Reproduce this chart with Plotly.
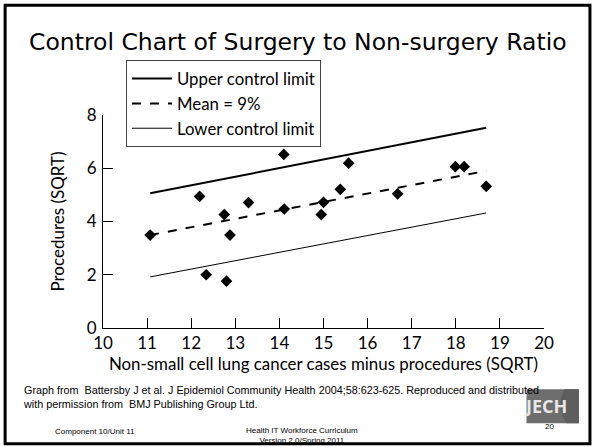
import plotly.graph_objects as go

# ---------------- data ----------------
pts_x = [11.07, 12.19, 12.34, 12.75, 12.80, 12.88, 13.30, 14.10, 14.11,
         14.95, 15.00, 15.38, 15.57, 16.68, 17.99, 18.19, 18.69]
pts_y = [3.49, 4.94, 2.00, 4.26, 1.76, 3.49, 4.71, 6.52, 4.47,
         4.26, 4.72, 5.21, 6.19, 5.04, 6.06, 6.06, 5.32]

limit_x = [11.07, 18.69]
ucl_y = [5.06, 7.52]
mean_y = [3.49, 5.90]
lcl_y = [1.92, 4.32]

x_ticks = [10, 11, 12, 13, 14, 15, 16, 17, 18, 19, 20]
y_ticks = [0, 2, 4, 6, 8]

title_text = "Control Chart of Surgery to Non-surgery Ratio"
x_title = "Non-small cell lung cancer cases minus procedures (SQRT)"
y_title = "Procedures (SQRT)"
caption = ("Graph from  Battersby J et al. J Epidemiol Community Health 2004;58:623-625. "
           "Reproduced and distributed<br>with permission from  BMJ Publishing Group Ltd.")

# ---------------- layout geometry ----------------
W, H = 594, 447
L, R = 103, 544.5
T, B = 115, 328.5
PW, PH = R - L, B - T


def px(x):
    return (x - L) / PW


def py(y):
    return (B - y) / PH


AX_FONT = "Lato, 'Noto Sans', sans-serif"

fig = go.Figure()

fig.add_trace(go.Scatter(x=limit_x, y=ucl_y, mode="lines", name="Upper control limit",
                         line=dict(color="black", width=2)))
fig.add_trace(go.Scatter(x=limit_x, y=mean_y, mode="lines", name="Mean = 9%",
                         line=dict(color="black", width=2, dash="dash")))
fig.add_trace(go.Scatter(x=limit_x, y=lcl_y, mode="lines", name="Lower control limit",
                         line=dict(color="black", width=1)))
fig.add_trace(go.Scatter(x=pts_x, y=pts_y, mode="markers", showlegend=False,
                         marker=dict(symbol="diamond", size=9, color="black")))

fig.update_layout(
    width=W, height=H,
    margin=dict(l=L, r=W - R, t=T, b=H - B, pad=0),
    paper_bgcolor="white", plot_bgcolor="white",
    showlegend=True,
    legend=dict(x=px(126), y=py(60), xanchor="left", yanchor="top",
                bgcolor="white", bordercolor="#444", borderwidth=1,
                font=dict(family=AX_FONT, size=16.8, color="black"),
                tracegroupgap=0, itemwidth=40),
    font=dict(family=AX_FONT, color="black"),
)

fig.update_xaxes(range=[10, 20], tickvals=x_ticks, showgrid=False, zeroline=False,
                 showline=True, linecolor="black", linewidth=1,
                 ticks="inside", ticklen=10, tickcolor="black", tickwidth=1,
                 tickfont=dict(family=AX_FONT, size=17, color="black"),
                 title=dict(text=x_title, font=dict(family=AX_FONT, size=16.9, color="black"),
                            standoff=4))
fig.update_yaxes(range=[0, 8], tickvals=y_ticks, showgrid=False, zeroline=False,
                 showline=True, linecolor="black", linewidth=1,
                 ticks="inside", ticklen=10, tickcolor="black", tickwidth=1,
                 ticklabelstandoff=2,
                 tickfont=dict(family=AX_FONT, size=17, color="black"),
                 title=dict(text=y_title, font=dict(family=AX_FONT, size=17, color="black"),
                            standoff=17))

annotations = [
    dict(text=title_text, x=px(298), y=py(42), xref="paper", yref="paper",
         showarrow=False, xanchor="center", yanchor="middle",
         font=dict(family="DejaVu Sans", size=23.5, color="black")),
    dict(text=caption, x=px(21), y=py(383), xref="paper", yref="paper",
         showarrow=False, xanchor="left", yanchor="top", align="left",
         font=dict(family="Liberation Sans, Arial", size=10.8, color="black")),
    dict(text="Component 10/Unit 11", x=px(95), y=py(432), xref="paper", yref="paper",
         showarrow=False, xanchor="center", yanchor="middle",
         font=dict(family="Liberation Sans, Arial", size=8, color="black")),
    dict(text="Health IT Workforce Curriculum<br>Version 2.0/Spring 2011",
         x=px(302), y=py(436.5), xref="paper", yref="paper",
         showarrow=False, xanchor="center", yanchor="middle", align="center",
         font=dict(family="Liberation Sans, Arial", size=8, color="black")),
    dict(text="20", x=px(550), y=py(427), xref="paper", yref="paper",
         showarrow=False, xanchor="center", yanchor="middle",
         font=dict(family="Liberation Sans, Arial", size=8, color="black")),
    dict(text="<b>JECH</b>", x=px(546), y=py(407), xref="paper", yref="paper",
         showarrow=False, xanchor="center", yanchor="middle",
         font=dict(family="Open Sans, DejaVu Sans", size=18, color="#e8e8e8")),
]

shapes = [
    # slide border
    dict(type="rect", xref="paper", yref="paper",
         x0=px(5), x1=px(590.5), y0=py(5), y1=py(444.5),
         line=dict(color="black", width=3), fillcolor="rgba(0,0,0,0)", layer="above"),
    # JECH logo box
    dict(type="rect", xref="paper", yref="paper",
         x0=px(527), x1=px(579.5), y0=py(390), y1=py(424),
         line=dict(width=0), fillcolor="#6e6e6e", layer="below"),
    dict(type="path", xref="paper", yref="paper",
         path=(f"M {px(579.5)},{py(390)} L {px(565)},{py(390)} "
               f"Q {px(556)},{py(407)} {px(567)},{py(424)} L {px(579.5)},{py(424)} Z"),
         line=dict(width=0), fillcolor="#5e5e5e", layer="below"),
]

fig.update_layout(annotations=annotations, shapes=shapes)

fig.write_html("out.html", config={"displayModeBar": False},
               post_script="document.body.style.margin='0';document.body.style.padding='0';")
